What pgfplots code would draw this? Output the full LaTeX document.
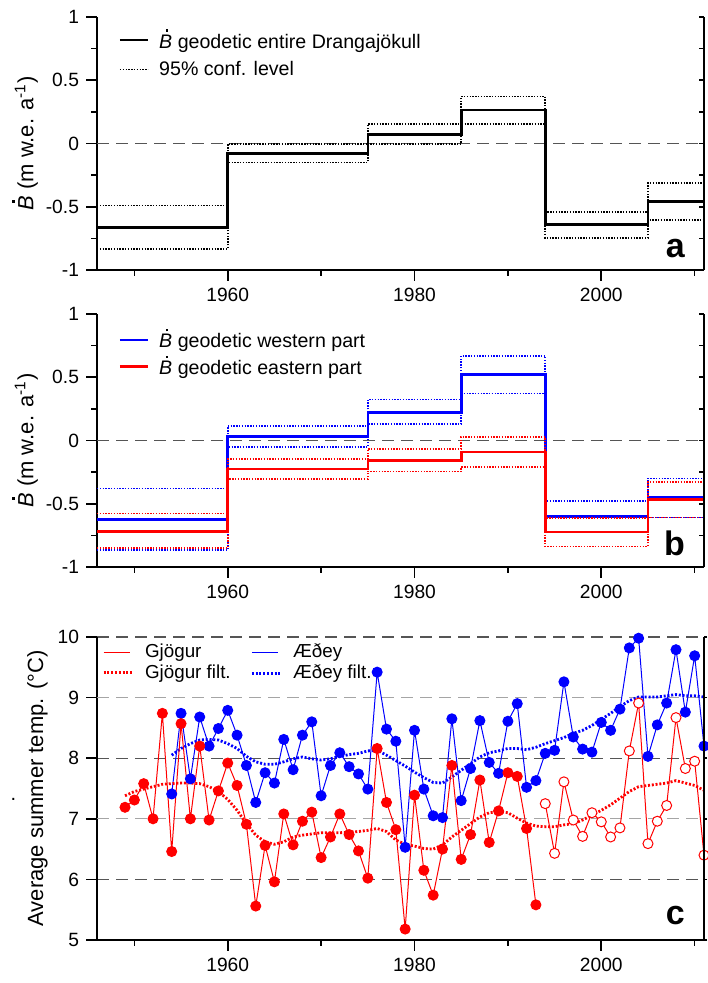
\documentclass[border=0pt]{standalone}
\usepackage{pgfplots}
\pgfplotsset{compat=1.18}
\usepackage{fontspec}
\setmainfont{Liberation Sans}
\definecolor{dgray}{RGB}{85,85,85}
\definecolor{lgray}{RGB}{165,165,165}
\definecolor{myblue}{RGB}{0,0,255}
\definecolor{myred}{RGB}{255,0,0}
\newcommand{\Bdot}{\textit{B}\llap{\raisebox{0.84em}{\rule{0.12em}{0.12em}}\hspace{0.2em}}}
\tikzset{
  conf/.style={line width=0.8pt, dash pattern=on 0.7pt off 0.7pt},
  filt/.style={line width=1.4pt, dash pattern=on 1pt off 0.9pt},
}
\pgfplotsset{
  panel/.style={
    scale only axis, width=303.5pt,
    xmin=1946, xmax=2011,
    axis x line*=bottom, axis y line*=left,
    xtick={1960,1980,2000}, xticklabels={1960,1980,2000},
    minor xtick={1950,1970,1990,2010},
    tick align=outside,
    major tick length=5.5pt, minor tick length=3pt,
    every tick/.style={black, line width=0.8pt},
    axis line style={line width=1pt},
    tick label style={font=\fontsize{9.6}{11}\selectfont},
    label style={font=\fontsize{11}{12}\selectfont},
    legend cell align=left,
    legend image code/.code={\draw (0pt,0pt) -- (14pt,0pt);},
    legend style={draw=none, fill=none, anchor=north west,
      font=\fontsize{9.8}{11}\selectfont,
      inner xsep=0pt, inner ysep=0pt, nodes={inner sep=1pt}, column sep=4pt},
  },
  rightside/.style={
    scale only axis, width=303.5pt,
    xmin=1946, xmax=2011,
    axis x line=none, axis y line*=right,
    yticklabels={}, major tick length=2.5pt, minor tick length=2.5pt,
    every tick/.style={black, line width=0.8pt},
    axis line style={line width=1pt},
    legend cell align=left,
    legend style={draw=none, fill=none, anchor=north west,
      font=\fontsize{9.4}{11}\selectfont,
      inner xsep=0pt, inner ysep=0pt, nodes={inner sep=1pt}, column sep=4pt},
  },
  thinleg/.style={legend image code/.code={\draw[#1, line width=0.6pt] (0pt,0pt) -- (13pt,0pt);}},
  filtleg/.style={legend image code/.code={\draw[#1, filt] (0pt,0pt) -- (15pt,0pt);}},
}
\begin{document}
\begin{tikzpicture}
\useasboundingbox (0,0) rectangle (353.5pt,491.5pt);
% ---------------- panel a
\begin{axis}[panel, at={(48.5pt,356.5pt)}, anchor=south west, height=126.5pt,
  ymin=-1, ymax=1, ytick={-1,-0.5,0,0.5,1}, yticklabels={-1,-0.5,0,0.5,1},
  minor ytick={-0.75,-0.25,0.25,0.75},
  ylabel={\Bdot{} (m w.e. a\textsuperscript{-1})},
  ylabel style={at={(axis description cs:-0.1186,0.5)}, anchor=center},
  legend style={at={(axis description cs:0.035,0.961)}, row sep=3pt}]
\draw[dgray, dash pattern=on 6pt off 3.5pt, line width=0.6pt] (axis cs:1946,0) -- (axis cs:2011,0);
\addplot[const plot, black, line width=1.3pt] coordinates {(1946,-0.666) (1960,-0.079) (1975,0.071) (1985,0.266) (1994,-0.642) (2005,-0.458) (2011,-0.458)};
\addlegendentry{\Bdot{} geodetic entire Drangajökull}
\addplot[const plot, black, conf] coordinates {(1946,-0.49) (1960,-0.003) (1975,0.153) (1985,0.371) (1994,-0.542) (2005,-0.313) (2011,-0.313)};
\addlegendentry{95\% conf. level}
\addplot[const plot, black, conf, forget plot] coordinates {(1946,-0.834) (1960,-0.15) (1975,-0.005) (1985,0.155) (1994,-0.745) (2005,-0.605) (2011,-0.605)};
\node[anchor=base east, font=\fontsize{17}{17}\selectfont\bfseries] at (rel axis cs:0.98,0.05) {a};
\end{axis}
\begin{axis}[rightside, at={(48.5pt,356.5pt)}, anchor=south west, height=126.5pt,
  ymin=-1, ymax=1, ytick={-1,-0.5,0,0.5,1}, minor ytick={-0.75,-0.25,0.25,0.75}, tick align=inside]
\end{axis}
% ---------------- panel b
\begin{axis}[panel, at={(48.5pt,208pt)}, anchor=south west, height=126.5pt,
  ymin=-1, ymax=1, ytick={-1,-0.5,0,0.5,1}, yticklabels={-1,-0.5,0,0.5,1},
  minor ytick={-0.75,-0.25,0.25,0.75},
  ylabel={\Bdot{} (m w.e. a\textsuperscript{-1})},
  ylabel style={at={(axis description cs:-0.1186,0.5)}, anchor=center},
  legend style={at={(axis description cs:0.035,0.95)}, row sep=0.5pt}]
\draw[dgray, dash pattern=on 6pt off 3.5pt, line width=0.6pt] (axis cs:1946,0) -- (axis cs:2011,0);
\addplot[const plot, myblue, line width=1.3pt] coordinates {(1946,-0.625) (1960,0.032) (1975,0.222) (1985,0.52) (1994,-0.602) (2005,-0.45) (2011,-0.45)};
\addlegendentry{\Bdot{} geodetic western part}
\addplot[const plot, myblue, conf, forget plot] coordinates {(1946,-0.38) (1960,0.113) (1975,0.324) (1985,0.67) (1994,-0.478) (2005,-0.30) (2011,-0.30)};
\addplot[const plot, myblue, conf, forget plot] coordinates {(1946,-0.868) (1960,-0.05) (1975,0.129) (1985,0.372) (1994,-0.726) (2005,-0.61) (2011,-0.61)};
\addplot[const plot, myred, line width=1.3pt] coordinates {(1946,-0.718) (1960,-0.224) (1975,-0.156) (1985,-0.092) (1994,-0.723) (2005,-0.466) (2011,-0.466)};
\addlegendentry{\Bdot{} geodetic eastern part}
\addplot[const plot, myred, conf, forget plot] coordinates {(1946,-0.578) (1960,-0.148) (1975,-0.066) (1985,0.029) (1994,-0.615) (2005,-0.327) (2011,-0.327)};
\addplot[const plot, myred, conf, forget plot] coordinates {(1946,-0.85) (1960,-0.303) (1975,-0.245) (1985,-0.211) (1994,-0.837) (2005,-0.61) (2011,-0.61)};
\node[anchor=base east, font=\fontsize{17}{17}\selectfont\bfseries] at (rel axis cs:0.98,0.047) {b};
\end{axis}
\begin{axis}[rightside, at={(48.5pt,208pt)}, anchor=south west, height=126.5pt,
  ymin=-1, ymax=1, ytick={-1,-0.5,0,0.5,1}, minor ytick={-0.75,-0.25,0.25,0.75}, tick align=inside]
\end{axis}
% ---------------- panel c
\begin{axis}[panel, at={(48.5pt,21.5pt)}, anchor=south west, height=151.5pt,
  ymin=5, ymax=10, ytick={5,6,8,10}, yticklabels={5,6,8,10},
  extra y ticks={7,9}, extra y tick labels={7,9},
  ymajorgrids, major grid style={dgray, dash pattern=on 6pt off 3.5pt, line width=0.6pt},
  extra y tick style={grid=major, major grid style={lgray, dash pattern=on 6pt off 3.5pt, line width=0.6pt}},
  ylabel={Average summer temp. (°C)},
  ylabel style={at={(axis description cs:-0.098,0.5)}, anchor=center},
  legend style={at={(axis description cs:0.008,0.985)}, font=\fontsize{9.4}{11}\selectfont, row sep=0pt}]
\addlegendimage{thinleg=myred}
\addlegendentry{Gjögur}
\addlegendimage{filtleg=myred}
\addlegendentry{Gjögur filt.}
% Aedey
\addplot[forget plot, myblue, line width=0.5pt, mark=*, mark size=2.5pt, mark options={fill=myblue, draw=myblue}] coordinates {
(1954,7.41) (1955,8.74) (1956,7.66) (1957,8.68) (1958,8.20) (1959,8.49) (1960,8.79) (1961,8.38) (1962,7.88) (1963,7.27)
(1964,7.76) (1965,7.59) (1966,8.31) (1967,7.81) (1968,8.38) (1969,8.60) (1970,7.38) (1971,7.88) (1972,8.09) (1973,7.86)
(1974,7.74) (1975,7.49) (1976,9.42) (1977,8.48) (1978,8.28) (1979,6.53) (1980,8.46) (1981,7.49) (1982,7.05) (1983,7.02)
(1984,8.65) (1985,7.30) (1986,7.83) (1987,8.62) (1988,7.93) (1989,7.75) (1990,8.61) (1991,8.90) (1992,7.52) (1993,7.63)
(1994,8.08) (1995,8.13) (1996,9.26) (1997,8.35) (1998,8.15) (1999,8.10) (2000,8.59) (2001,8.46) (2002,8.81) (2003,9.82)
(2004,9.98) (2005,8.03) (2006,8.55) (2007,8.91) (2008,9.79) (2009,8.76) (2010,9.69) (2011,8.20)};
\addplot[forget plot, myblue, filt] coordinates {
(1954,8.05) (1955,8.16) (1956,8.24) (1957,8.30) (1958,8.31) (1959,8.30) (1960,8.24) (1961,8.16) (1962,8.03) (1963,7.94)
(1964,7.90) (1965,7.90) (1966,7.94) (1967,7.99) (1968,8.02) (1969,7.99) (1970,7.97) (1971,7.99) (1972,8.03) (1973,8.06)
(1974,8.08) (1975,8.12) (1976,8.13) (1977,8.05) (1978,7.96) (1979,7.87) (1980,7.77) (1981,7.68) (1982,7.60) (1983,7.59)
(1984,7.69) (1985,7.80) (1986,7.91) (1987,8.02) (1988,8.09) (1989,8.12) (1990,8.16) (1991,8.16) (1992,8.14) (1993,8.18)
(1994,8.24) (1995,8.29) (1996,8.34) (1997,8.41) (1998,8.46) (1999,8.54) (2000,8.64) (2001,8.74) (2002,8.85) (2003,8.95)
(2004,9.01) (2005,9.01) (2006,9.01) (2007,9.03) (2008,9.05) (2009,9.03) (2010,9.03) (2011,9.01)};
% Gjogur
\addplot[forget plot, myred, line width=0.5pt, mark=*, mark size=2.5pt, mark options={fill=myred, draw=myred}] coordinates {
(1949,7.19) (1950,7.31) (1951,7.58) (1952,7.00) (1953,8.74) (1954,6.46) (1955,8.57) (1956,7.00) (1957,8.20) (1958,6.98)
(1959,7.46) (1960,7.92) (1961,7.55) (1962,6.91) (1963,5.56) (1964,6.56) (1965,5.96) (1966,7.08) (1967,6.57) (1968,6.96)
(1969,7.11) (1970,6.36) (1971,6.70) (1972,7.08) (1973,6.74) (1974,6.47) (1975,6.02) (1976,8.16) (1977,7.27) (1978,6.82)
(1979,5.18) (1980,7.39) (1981,6.15) (1982,5.74) (1983,6.50) (1984,7.88) (1985,6.33) (1986,6.74) (1987,7.64) (1988,6.61)
(1989,7.13) (1990,7.76) (1991,7.70) (1992,6.84) (1993,5.58)};
\addplot[forget plot, myred, line width=0.5pt, mark=*, mark size=2.5pt, mark options={fill=white, draw=myred, line width=0.5pt}] coordinates {
(1994,7.25) (1995,6.43) (1996,7.61) (1997,6.98) (1998,6.71) (1999,7.10) (2000,6.95) (2001,6.70) (2002,6.85) (2003,8.12)
(2004,8.91) (2005,6.59) (2006,6.96) (2007,7.22) (2008,8.67) (2009,7.83) (2010,7.95) (2011,6.40)};
\addplot[forget plot, myred, filt] coordinates {
(1949,7.38) (1950,7.45) (1951,7.49) (1952,7.53) (1953,7.57) (1954,7.58) (1955,7.59) (1956,7.59) (1957,7.58) (1958,7.53)
(1959,7.45) (1960,7.32) (1961,7.14) (1962,6.92) (1963,6.73) (1964,6.62) (1965,6.58) (1966,6.62) (1967,6.70) (1968,6.73)
(1969,6.75) (1970,6.77) (1971,6.77) (1972,6.77) (1973,6.78) (1974,6.79) (1975,6.81) (1976,6.84) (1977,6.79) (1978,6.65)
(1979,6.58) (1980,6.55) (1981,6.51) (1982,6.50) (1983,6.57) (1984,6.70) (1985,6.81) (1986,6.92) (1987,7.03) (1988,7.10)
(1989,7.12) (1990,7.10) (1991,7.01) (1992,6.93) (1993,6.88) (1994,6.87) (1995,6.87) (1996,6.90) (1997,6.92) (1998,6.98)
(1999,7.06) (2000,7.14) (2001,7.23) (2002,7.34) (2003,7.45) (2004,7.53) (2005,7.55) (2006,7.57) (2007,7.59) (2008,7.63)
(2009,7.59) (2010,7.55) (2011,7.47)};
\node[anchor=base east, font=\fontsize{17}{17}\selectfont\bfseries] at (rel axis cs:0.98,0.05) {c};
\end{axis}
\begin{axis}[rightside, at={(48.5pt,21.5pt)}, anchor=south west, height=151.5pt,
  ymin=5, ymax=10, ytick={5,6,7,8,9,10}, tick align=outside, major tick length=1.5pt,
  legend style={at={(axis description cs:0.252,0.985)}, row sep=0pt}]
\addlegendimage{thinleg=myblue}
\addlegendentry{Æðey}
\addlegendimage{filtleg=myblue}
\addlegendentry{Æðey filt.}
\end{axis}
\node[anchor=base, inner sep=0pt, font=\fontsize{10}{10}\selectfont] at (6.7pt,91pt) {.};
\end{tikzpicture}
\end{document}
